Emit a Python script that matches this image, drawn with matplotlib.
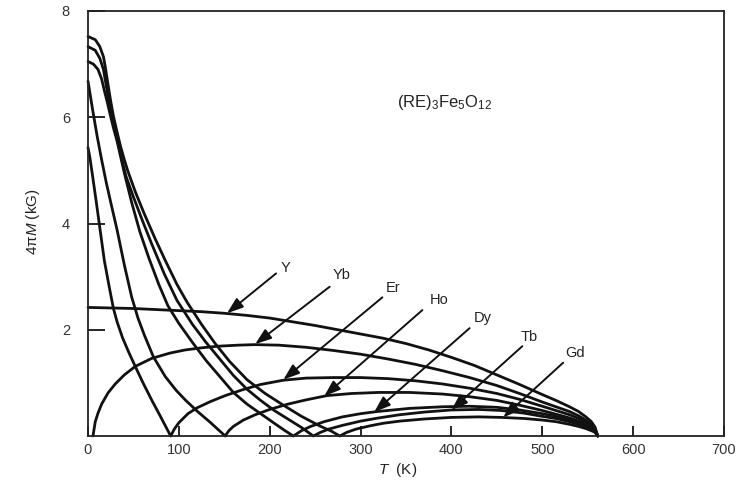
import matplotlib
matplotlib.use('Agg')
import matplotlib.pyplot as plt

plt.rcParams['font.family'] = ['Liberation Sans', 'DejaVu Sans']
plt.rcParams['mathtext.fontset'] = 'custom'
plt.rcParams['mathtext.rm'] = 'Liberation Sans'
plt.rcParams['mathtext.it'] = 'Liberation Sans:italic'

# ---------------- data ----------------
Y_T = [0, 25, 50, 75, 100, 125, 150, 175, 200, 225, 250, 275, 300, 325, 350,
       375, 400, 425, 450, 475, 500, 515, 530, 540, 548, 554, 558, 561]
Y_M = [2.42, 2.41, 2.40, 2.38, 2.36, 2.34, 2.31, 2.27, 2.22, 2.15, 2.08, 2.00,
       1.92, 1.84, 1.74, 1.62, 1.48, 1.33, 1.15, 0.97, 0.78, 0.67, 0.55, 0.46,
       0.36, 0.27, 0.17, 0.0]

Yb_T = [5.5, 8, 11, 15, 22, 30, 40, 52, 70, 90, 107, 125, 143, 165, 184, 210,
        240, 270, 300, 330, 360, 390, 420, 450, 475, 500, 515, 530, 540, 548,
        554, 558, 561]
Yb_M = [0.0, 0.27, 0.43, 0.60, 0.81, 0.98, 1.15, 1.31, 1.46, 1.56, 1.62, 1.66,
        1.69, 1.71, 1.72, 1.71, 1.67, 1.61, 1.54, 1.45, 1.35, 1.23, 1.10, 0.95,
        0.80, 0.64, 0.55, 0.46, 0.38, 0.30, 0.22, 0.14, 0.0]

Er_T = [0, 2, 5, 9, 13, 18, 24, 28, 32, 38, 45, 52, 60, 70, 80, 91, 95, 100,
        110, 120, 135, 151, 170, 190, 215, 240, 270, 300, 330, 360, 390, 420,
        450, 475, 500, 515, 530, 540, 548, 554, 558, 561]
Er_M = [5.43, 5.25, 4.90, 4.42, 3.92, 3.30, 2.75, 2.40, 2.15, 1.85, 1.57, 1.31,
        1.02, 0.68, 0.36, 0.0, 0.13, 0.25, 0.42, 0.53, 0.65, 0.76, 0.87, 0.97,
        1.05, 1.09, 1.10, 1.10, 1.08, 1.04, 0.98, 0.90, 0.80, 0.69, 0.56, 0.48,
        0.40, 0.33, 0.26, 0.19, 0.12, 0.0]

Ho_T = [0, 5, 10, 15, 20, 25, 32, 40, 48, 55, 62, 72, 85, 97, 107, 120, 135,
        151, 155, 160, 171, 184, 200, 220, 240, 263, 290, 320, 354, 390, 420,
        450, 475, 500, 515, 530, 540, 548, 554, 558, 561]
Ho_M = [6.68, 6.15, 5.65, 5.20, 4.78, 4.40, 3.88, 3.22, 2.62, 2.22, 1.90, 1.49,
        1.12, 0.86, 0.68, 0.47, 0.25, 0.0, 0.10, 0.18, 0.30, 0.40, 0.50, 0.60,
        0.68, 0.76, 0.80, 0.82, 0.82, 0.79, 0.74, 0.67, 0.58, 0.48, 0.41, 0.34,
        0.28, 0.22, 0.16, 0.11, 0.0]

Dy_T = [0, 6, 11, 15, 18, 21, 24, 28, 32, 36, 40, 48, 57, 67, 78, 88, 100, 115,
        130, 145, 160, 175, 190, 205, 216, 226, 235, 245, 260, 280, 300, 318,
        354, 390, 420, 450, 475, 500, 515, 530, 540, 548, 554, 558, 561]
Dy_M = [7.05, 7.00, 6.90, 6.72, 6.50, 6.30, 6.08, 5.80, 5.55, 5.25, 4.95, 4.40,
        3.85, 3.35, 2.85, 2.45, 2.12, 1.76, 1.42, 1.12, 0.82, 0.60, 0.42, 0.24,
        0.11, 0.0, 0.10, 0.18, 0.27, 0.36, 0.42, 0.46, 0.52, 0.55, 0.56, 0.54,
        0.49, 0.42, 0.37, 0.30, 0.25, 0.19, 0.14, 0.09, 0.0]

Tb_T = [0, 8, 13, 17, 20, 23, 26, 30, 34, 38, 42, 50, 60, 70, 84, 98, 115, 130,
        145, 160, 175, 190, 205, 220, 235, 248, 256, 265, 280, 300, 320, 343,
        370, 400, 430, 455, 480, 500, 515, 530, 540, 548, 554, 558, 561]
Tb_M = [7.33, 7.26, 7.11, 6.90, 6.60, 6.30, 6.05, 5.75, 5.45, 5.15, 4.88, 4.50,
        4.05, 3.62, 3.05, 2.55, 2.10, 1.76, 1.45, 1.14, 0.88, 0.67, 0.48, 0.32,
        0.16, 0.0, 0.07, 0.13, 0.20, 0.28, 0.34, 0.40, 0.45, 0.49, 0.50, 0.48,
        0.43, 0.37, 0.33, 0.27, 0.22, 0.17, 0.12, 0.08, 0.0]

Gd_T = [0, 8, 13, 17, 19, 22, 25, 28, 32, 36, 40, 44, 52, 62, 74, 86, 98, 109,
        125, 140, 156, 175, 195, 215, 235, 255, 268, 277, 285, 295, 310, 325,
        343, 370, 400, 430, 455, 480, 500, 515, 530, 540, 548, 554, 558, 561]
Gd_M = [7.52, 7.46, 7.33, 7.14, 6.95, 6.62, 6.30, 6.02, 5.72, 5.44, 5.20, 4.98,
        4.60, 4.18, 3.71, 3.27, 2.85, 2.52, 2.10, 1.74, 1.40, 1.06, 0.80, 0.58,
        0.37, 0.19, 0.09, 0.0, 0.07, 0.13, 0.19, 0.24, 0.28, 0.32, 0.35, 0.36,
        0.35, 0.33, 0.30, 0.27, 0.22, 0.18, 0.14, 0.10, 0.07, 0.0]

labels = ['Y', 'Yb', 'Er', 'Ho', 'Dy', 'Tb', 'Gd']
label_T = [217, 279, 336, 386, 435, 486, 536]
label_M = [3.16, 3.03, 2.78, 2.56, 2.22, 1.87, 1.56]
tail_T = [207, 266, 324, 368, 420, 478, 523]
tail_M = [3.06, 2.81, 2.61, 2.37, 2.03, 1.69, 1.38]
tip_T = [153, 184, 215, 260, 315, 400, 457]
tip_M = [2.31, 1.73, 1.06, 0.75, 0.45, 0.49, 0.35]

x_ticks = [0, 100, 200, 300, 400, 500, 600, 700]
y_ticks = [2, 4, 6, 8]
y_ticklabels = ['2', '4', '6', '8']

# ---------------- figure ----------------
fig = plt.figure(figsize=(7.43, 4.82), dpi=100)
ax = fig.add_axes([88 / 743, 46 / 482, 636 / 743, 425 / 482])

curve_color = '#111111'
for T, M in [(Y_T, Y_M), (Yb_T, Yb_M), (Er_T, Er_M), (Ho_T, Ho_M),
             (Dy_T, Dy_M), (Tb_T, Tb_M), (Gd_T, Gd_M)]:
    ax.plot(T, M, color=curve_color, lw=2.0, solid_joinstyle='round',
            solid_capstyle='round', clip_on=False)

for lab, lx, ly, tx, ty, px, py in zip(labels, label_T, label_M, tail_T,
                                       tail_M, tip_T, tip_M):
    ax.annotate('', xy=(px, py), xytext=(tx, ty),
                arrowprops=dict(arrowstyle='-|>,head_length=0.7,head_width=0.25',
                                color='#111111', lw=1.4, mutation_scale=14,
                                shrinkA=0, shrinkB=0))
    ax.text(lx, ly, lab, ha='center', va='center', fontsize=10.5,
            color='#222222')

ax.text(392, 6.27, r'(RE)$_3$Fe$_5$O$_{12}$', ha='center', va='center',
        fontsize=12, color='#222222')

ax.set_xlim(0, 700)
ax.set_ylim(0, 8)
ax.set_xticks(x_ticks)
ax.set_yticks(y_ticks)
ax.set_yticklabels(y_ticklabels)
ax.tick_params(axis='x', direction='in', length=7, width=1.2, pad=5,
               labelsize=10.5, labelcolor='#333333')
ax.tick_params(axis='y', direction='in', length=12, width=1.2, pad=13,
               labelsize=10.5, labelcolor='#333333')
for s in ax.spines.values():
    s.set_linewidth(1.3)
    s.set_color('#222222')

fig.text(398 / 743, 1 - 470 / 482, r'$T$  (K)', ha='center', va='center',
         fontsize=11, color='#222222')
fig.text(33 / 743, 1 - 222 / 482, r'4π$M$ (kG)', ha='center', va='center',
         rotation=90, fontsize=11, color='#222222')

fig.savefig('out.png', dpi=100)
